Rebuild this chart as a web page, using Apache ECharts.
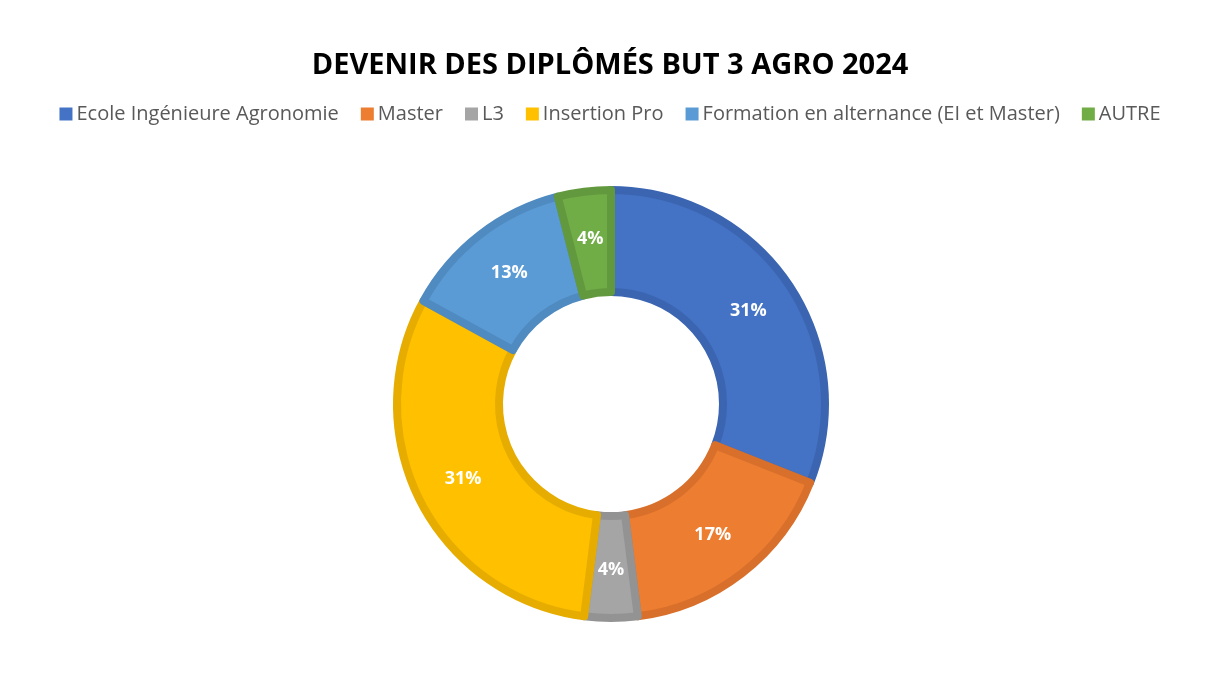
<!DOCTYPE html>
<html><head><meta charset="utf-8">
<script src="https://cdn.jsdelivr.net/npm/echarts@6/dist/echarts.min.js"></script>
<style>html,body{margin:0;padding:0;background:#fff}#c{width:1220px;height:677px}</style>
</head><body><div id="c"></div>
<script>
const titleText = 'DEVENIR DES DIPLÔMÉS BUT 3 AGRO 2024';
const categories = ['Ecole Ingénieure Agronomie', 'Master', 'L3', 'Insertion Pro', 'Formation en alternance (EI et Master)', 'AUTRE'];
const values = [31, 17, 4, 31, 13, 4];
const fillColors = ['#4472C4', '#ED7D31', '#A5A5A5', '#FFC000', '#5B9BD5', '#70AD47'];
const borderColors = ['#3B65B0', '#D8702B', '#939393', '#E6AD00', '#4F8AC0', '#63993E'];

const chart = echarts.init(document.getElementById('c'));
chart.setOption({
  animation: false,
  title: {
    text: titleText, left: 'center', top: 46,
    textStyle: { fontFamily: 'Open Sans', fontWeight: 'bold', fontSize: 29, color: '#000' }
  },
  legend: {
    top: 99, left: 'center', itemWidth: 13, itemHeight: 13, itemGap: 22,
    icon: 'rect',
    itemStyle: { borderWidth: 0 },
    textStyle: { fontFamily: 'Open Sans', fontSize: 20, color: '#595959', padding: [0, 0, 0, -1] },
    data: categories
  },
  series: [{
    type: 'pie',
    center: [611, 404],
    radius: [112, 214],
    startAngle: 90,
    clockwise: true,
    label: {
      show: true, position: 'inside',
      formatter: p => p.value + '%',
      color: '#fff', fontFamily: 'Open Sans', fontWeight: 'bold', fontSize: 18
    },
    labelLine: { show: false },
    data: categories.map((c, i) => ({
      name: c, value: values[i],
      itemStyle: { color: fillColors[i], borderColor: borderColors[i], borderWidth: 8 }
    }))
  }]
});
</script></body></html>
